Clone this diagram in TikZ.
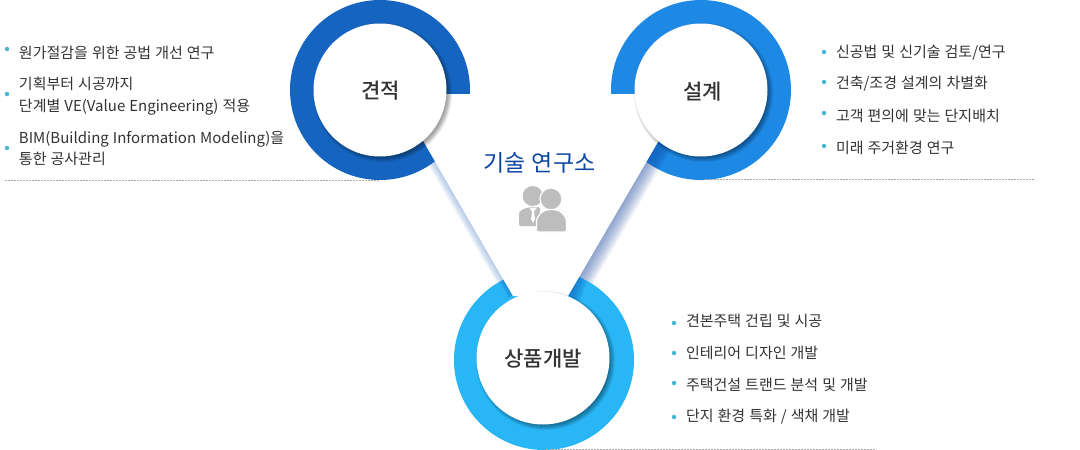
\documentclass[tikz,border=0pt]{standalone}
\usepackage{fontspec}
\setmainfont[WordSpace=1.2]{Noto Sans CJK KR}
\newfontfamily\hubfont{Noto Sans CJK KR Medium}
\definecolor{quotering}{HTML}{1565C0}
\definecolor{designring}{HTML}{1E88E5}
\definecolor{productring}{HTML}{29B6F6}
\definecolor{bodytext}{HTML}{333333}
\definecolor{titletext}{HTML}{0D47A1}
\definecolor{dotcolor}{HTML}{45B8D8}
\definecolor{icongray}{HTML}{BDBDBD}
\definecolor{rulegray}{HTML}{AAAAAA}
\definecolor{beamlight}{HTML}{7FA5D8}
\definecolor{beamdark}{HTML}{3F64B0}
\tikzset{
  hubdisc/.style={circle,fill=white,minimum size=133pt,inner sep=0pt,outer sep=0pt},
  hublabel/.style={inner sep=0pt,outer sep=0pt,text=bodytext,font=\hubfont\fontsize{21}{25}\selectfont},
  itemtext/.style={inner sep=0pt,outer sep=0pt,anchor=west,yshift=-1pt,text=bodytext,font=\fontsize{15}{18}\selectfont},
  itemdot/.style={circle,fill=dotcolor,minimum size=4.5pt,inner sep=0pt,outer sep=0pt},
  rulepath/.style={draw=rulegray,line width=0.6pt,dash pattern=on 1.8pt off 1.2pt},
}
\begin{document}
\begin{tikzpicture}[x=1pt,y=-1pt]
\path[use as bounding box] (0,0) rectangle (1080,450);
\path[fill=white,draw=none] (0,0) rectangle (1080,450);
% beams under the rings
\foreach \w in {1,...,8}
  \fill[beamlight,opacity=.09] (424,141.7) -- (513,295) -- (513-.866*\w,295+.5*\w) -- (424-.866*\w,141.7+.5*\w) -- cycle;
\foreach \w in {1,...,16}
  \fill[beamdark,opacity=.05] (657,141.7) -- (568,295) -- (568+.866*\w,295+.5*\w) -- (657+.866*\w,141.7+.5*\w) -- cycle;
% rings
\fill[quotering] (380,90) circle[radius=90];
\fill[designring] (701,90) circle[radius=90];
\fill[productring] (544,360) circle[radius=90];
% darker ring ends
\begin{scope}
\clip (701,90) circle[radius=90];
\foreach \w in {1,...,16}
  \fill[quotering,opacity=.13] (657,141.7) -- (600,240) -- (600+.866*\w,240+.5*\w) -- (657+.866*\w,141.7+.5*\w) -- cycle;
\end{scope}
\begin{scope}
\clip (544,360) circle[radius=90];
\foreach \w in {1,...,14}
  \fill[quotering,opacity=.08] (610,182) -- (568,295) -- (568+.866*\w,295+.5*\w) -- (610+.866*\w,182+.5*\w) -- cycle;
\foreach \w in {1,...,6}
  \fill[quotering,opacity=.1] (470,218) -- (513,295) -- (513-.866*\w,295+.5*\w) -- (470-.866*\w,218+.5*\w) -- cycle;
\end{scope}
% white cut between the rings
\fill[white] (396,94) -- (686,94) -- (568,296) -- (513,296) -- cycle;
% shadows
\foreach \cx/\cy in {380/90,701/90,543/358}
  \foreach \r in {69.5,68.5,67.5,66.5,65.5,64.5}
    \fill[black,opacity=.075] (\cx+2.5,\cy+2.5) circle[radius=\r];
% discs
\node[hubdisc] (quote) at (380,90) {};
\node[hubdisc] (design) at (701,90) {};
\node[hubdisc] (product) at (543,358) {};
\node[hublabel] (quotelabel) at (380.5,90.5) {견적};
\node[hublabel] (designlabel) at (702.5,91.5) {설계};
\node[hublabel] (productlabel) at (543,358.5) {상품개발};
% title
\node[inner sep=0pt,outer sep=0pt,text=titletext,font=\fontsize{23}{27}\selectfont] (lab) at (539.5,163) {기술 연구소};
% icon
\fill[icongray] (532.7,196) circle[radius=10];
\fill[icongray,rounded corners=2pt] (519,226) -- (519,216) .. controls (519,210) and (525,208) .. (532,207) -- (540,207) -- (540,226) -- cycle;
\fill[white] (529,207.5) -- (533,213) -- (537,207.5) -- cycle;
\fill[white] (532,212) -- (534,212) -- (535,219) -- (533,223) -- (531,219) -- cycle;
\fill[icongray,draw=white,line width=1.2pt] (551,199) circle[radius=11];
\fill[icongray,draw=white,line width=1.2pt,rounded corners=1.5pt] (536.5,232) -- (536.5,224) .. controls (536.5,215) and (543,209.5) .. (551.5,209.5) .. controls (560,209.5) and (566.5,215) .. (566.5,224) -- (566.5,232) -- cycle;
% items left
\node[itemdot] (dota1) at (7,49) {};
\node[itemtext] (texta1) at (19,52) {원가절감을 위한 공법 개선 연구};
\node[itemdot] (dota2) at (7,94) {};
\node[itemtext] (texta2) at (19,83) {기획부터 시공까지};
\node[itemtext] (texta3) at (19,106) {단계별 VE(Value Engineering) 적용};
\node[itemdot] (dota3) at (7,148) {};
\node[itemtext] (texta4) at (19,138) {BIM(Building Information Modeling)을};
\node[itemtext] (texta5) at (19,158) {통한 공사관리};
% items right
\node[itemdot] (dotb1) at (824,52) {};
\node[itemtext] (textb1) at (836,52) {신공법 및 신기술 검토/연구};
\node[itemdot] (dotb2) at (824,82) {};
\node[itemtext] (textb2) at (836,83) {건축/조경 설계의 차별화};
\node[itemdot] (dotb3) at (824,113) {};
\node[itemtext] (textb3) at (836,115) {고객 편의에 맞는 단지배치};
\node[itemdot] (dotb4) at (824,146) {};
\node[itemtext] (textb4) at (836,147) {미래 주거환경 연구};
% items bottom
\node[itemdot] (dotc1) at (674,323) {};
\node[itemtext] (textc1) at (686,320) {견본주택 건립 및 시공};
\node[itemdot] (dotc2) at (674,353) {};
\node[itemtext] (textc2) at (686,352) {인테리어 디자인 개발};
\node[itemdot] (dotc3) at (674,383) {};
\node[itemtext] (textc3) at (686,384) {주택건설 트랜드 분석 및 개발};
\node[itemdot] (dotc4) at (674,417) {};
\node[itemtext] (textc4) at (686,416) {단지 환경 특화 / 색채 개발};
% dotted rules
\path[rulepath] (5,180.5) -- (380,180.5);
\path[rulepath] (705,179.5) -- (1035,179.5);
\path[rulepath] (546,449.5) -- (876,449.5);
\end{tikzpicture}
\end{document}
